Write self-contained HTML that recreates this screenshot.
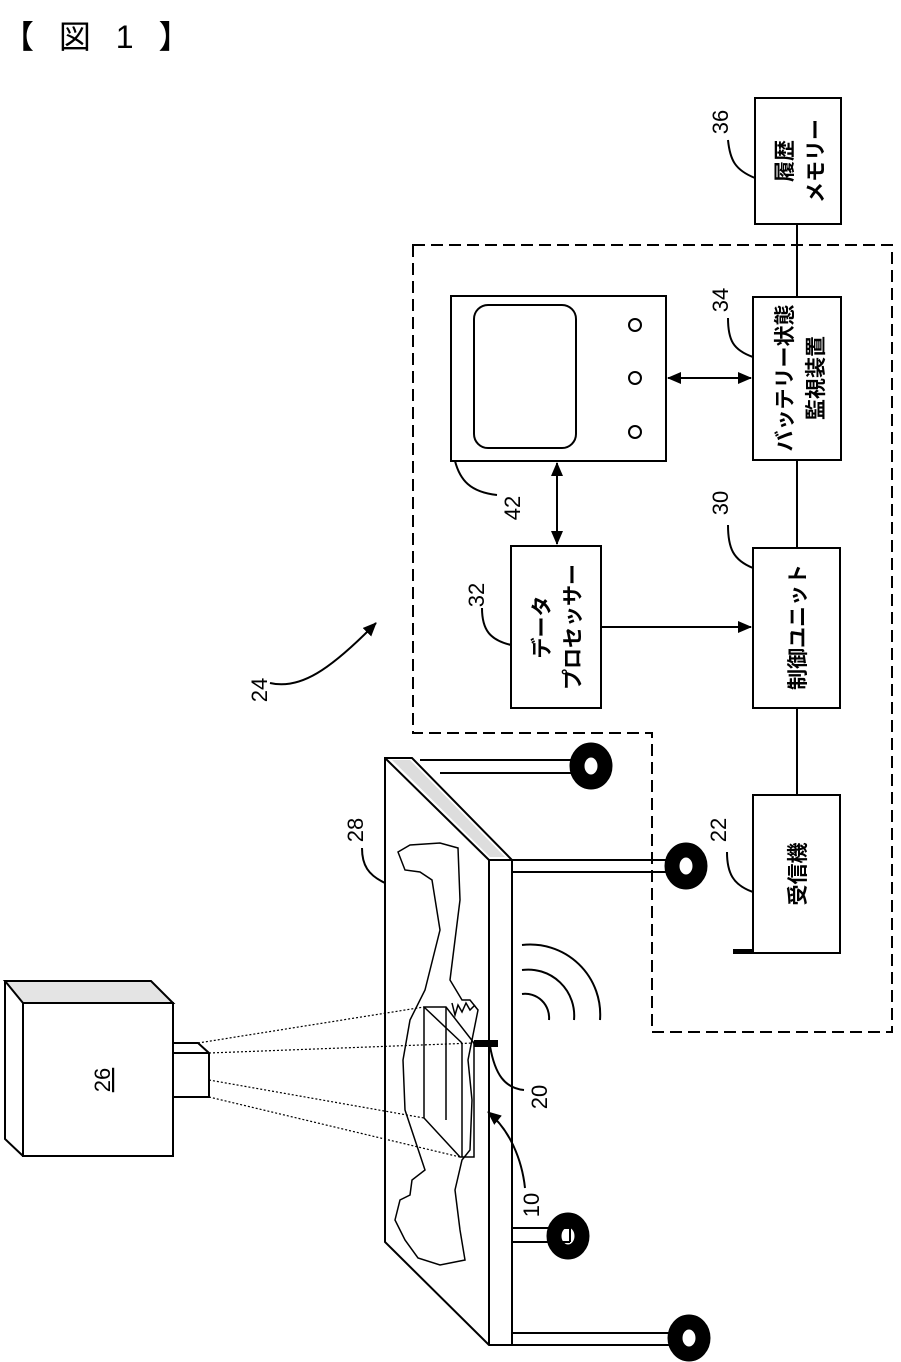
<!DOCTYPE html>
<html><head><meta charset="utf-8"><style>
html,body{margin:0;padding:0;background:#fff;}
svg{display:block;}
text{font-family:"Liberation Sans","Noto Sans CJK JP",sans-serif;fill:#000;}
</style></head><body>
<svg width="901" height="1362" viewBox="0 0 901 1362" xmlns="http://www.w3.org/2000/svg">
<defs>
<marker id="ah2" markerWidth="14" markerHeight="12" refX="13" refY="6" orient="auto-start-reverse" markerUnits="userSpaceOnUse" viewBox="0 0 14 12"><path d="M0,0 L14,6 L0,12 z" fill="#000"/></marker>
</defs>
<text x="2" y="48" font-size="32" letter-spacing="8">【 図 1 】</text>

<g fill="none" stroke="#000" stroke-width="2">
<path d="M413,245 H892 V1032 H652 V733 H413 Z" stroke-dasharray="12,6"/>
<rect x="755" y="98" width="86" height="126"/>
<rect x="753" y="297" width="88" height="163"/>
<rect x="511" y="546" width="90" height="162"/>
<rect x="753" y="548" width="87" height="160"/>
<rect x="753" y="795" width="87" height="158"/>
<rect x="451" y="296" width="215" height="165"/>
<rect x="474" y="305" width="102" height="143" rx="14"/>
<circle cx="635" cy="325" r="6"/><circle cx="635" cy="378" r="6"/><circle cx="635" cy="432" r="6"/>
<line x1="797" y1="224" x2="797" y2="297"/>
<line x1="797" y1="460" x2="797" y2="548"/>
<line x1="797" y1="708" x2="797" y2="795"/>
<line x1="668" y1="378" x2="751" y2="378" marker-start="url(#ah2)" marker-end="url(#ah2)"/>
<line x1="557" y1="463" x2="557" y2="544" marker-start="url(#ah2)" marker-end="url(#ah2)"/>
<line x1="601" y1="627" x2="751" y2="627" marker-end="url(#ah2)"/>
<path d="M755,178 C735,170 730,160 728,140"/>
<path d="M753,357 C733,350 728,340 728,318"/>
<path d="M753,568 C733,560 728,548 728,525"/>
<path d="M455,461 C460,480 470,492 497,495"/>
<path d="M511,645 C490,640 482,630 482,608"/>
<path d="M753,892 C733,885 727,873 727,852"/>
<path d="M385,883 C368,875 362,865 362,848"/>
<path d="M490,1046 C495,1075 505,1088 524,1090"/>
<path d="M525,1188 C522,1160 510,1130 488,1112" marker-end="url(#ah2)"/>
<path d="M270,683 C300,690 330,670 376,623" marker-end="url(#ah2)"/>
</g>

<rect x="733" y="949" width="20" height="5" fill="#000"/>

<g fill="none" stroke="#000" stroke-width="2">
<path d="M385,758 H412 L512,860 V1345 H489 L385,1242 Z"/>
<line x1="385" y1="758" x2="489" y2="860"/>
<line x1="489" y1="860" x2="489" y2="1345"/>
<line x1="489" y1="860" x2="512" y2="860"/>
<path d="M512,860 H668 M512,872 H668"/>
<path d="M420,760 H578 M440,773 H578 M578,760 V773"/>
<path d="M512,1228 H570 M512,1242 H570 M570,1228 V1242"/>
<path d="M512,1333 H670 M512,1345 H670"/>
</g>
<path d="M392,760 L410,760 L505,857 L490,857 Z" fill="#ddd"/>
<g fill="none" stroke="#000">
<ellipse cx="686" cy="866" rx="14" ry="16" stroke-width="15"/>
<ellipse cx="591" cy="766" rx="14" ry="16" stroke-width="15"/>
<ellipse cx="568" cy="1236" rx="14" ry="16" stroke-width="15"/>
<ellipse cx="689" cy="1338" rx="14" ry="16" stroke-width="15"/>
</g>
<path d="M398,852 L410,845 L440,843 L458,848 L460,900 L450,980 L462,1000 L470,1000 L478,1010 L468,1060 L472,1100 L470,1150 L462,1160 L455,1190 L460,1230 L465,1260 L440,1265 L418,1258 L405,1240 L395,1220 L400,1200 L410,1195 L412,1180 L425,1170 L415,1140 L405,1110 L403,1060 L410,1020 L425,990 L440,930 L432,880 L420,872 L405,870 Z" fill="none" stroke="#000" stroke-width="1.5"/>
<path d="M452,1003 L455,1015 L458,1005 L462,1012 L466,1003 L470,1010 L475,1005" fill="none" stroke="#000" stroke-width="1.5"/>
<g fill="none" stroke="#000" stroke-width="1.5">
<path d="M424,1007 H446 L474,1043 V1157 H460 L424,1118 Z"/>
<line x1="446" y1="1007" x2="446" y2="1120"/>
<line x1="424" y1="1007" x2="462" y2="1043"/>
<line x1="462" y1="1043" x2="462" y2="1157"/>
</g>
<rect x="474" y="1040" width="24" height="7" fill="#000"/>
<g fill="none" stroke="#000" stroke-width="2">
<path d="M522,994 A24,24 0 0 1 549,1020"/>
<path d="M522,970 A46,46 0 0 1 574,1020"/>
<path d="M522,945 A70,70 0 0 1 600,1020"/>
</g>
<g fill="none" stroke="#000" stroke-width="2">
<path d="M5,981 H151 L173,1003 H23 Z" fill="#e4e4e4"/>
<path d="M5,981 V1139 L23,1156"/>
<rect x="23" y="1003" width="150" height="153"/>
<path d="M173,1043 H198 L209,1053 V1097 H173"/>
<line x1="173" y1="1053" x2="209" y2="1053"/>
</g>
<g fill="none" stroke="#000" stroke-width="1.2" stroke-dasharray="2,2">
<line x1="198" y1="1043" x2="424" y2="1007"/>
<line x1="209" y1="1053" x2="474" y2="1043"/>
<line x1="209" y1="1080" x2="424" y2="1118"/>
<line x1="209" y1="1097" x2="460" y2="1157"/>
</g>

<g font-size="22" text-anchor="middle">
<text transform="translate(110,1080) rotate(-90)" text-decoration="underline">26</text>
<text transform="translate(728,122) rotate(-90)">36</text>
<text transform="translate(728,300) rotate(-90)">34</text>
<text transform="translate(728,503) rotate(-90)">30</text>
<text transform="translate(520,508) rotate(-90)">42</text>
<text transform="translate(484,595) rotate(-90)">32</text>
<text transform="translate(726,830) rotate(-90)">22</text>
<text transform="translate(363,830) rotate(-90)">28</text>
<text transform="translate(547,1097) rotate(-90)">20</text>
<text transform="translate(539,1205) rotate(-90)">10</text>
<text transform="translate(267,690) rotate(-90)">24</text>
</g>
<g font-size="21" text-anchor="middle" font-weight="bold">
<text transform="translate(792,161) rotate(-90)">履歴</text>
<text transform="translate(823,161) rotate(-90)">メモリー</text>
<text transform="translate(792,378) rotate(-90)">バッテリー状態</text>
<text transform="translate(823,378) rotate(-90)">監視装置</text>
<text transform="translate(549,627) rotate(-90)">データ</text>
<text transform="translate(580,627) rotate(-90)">プロセッサー</text>
<text transform="translate(805,627) rotate(-90)">制御ユニット</text>
<text transform="translate(805,874) rotate(-90)">受信機</text>
</g>
</svg>
</body></html>
